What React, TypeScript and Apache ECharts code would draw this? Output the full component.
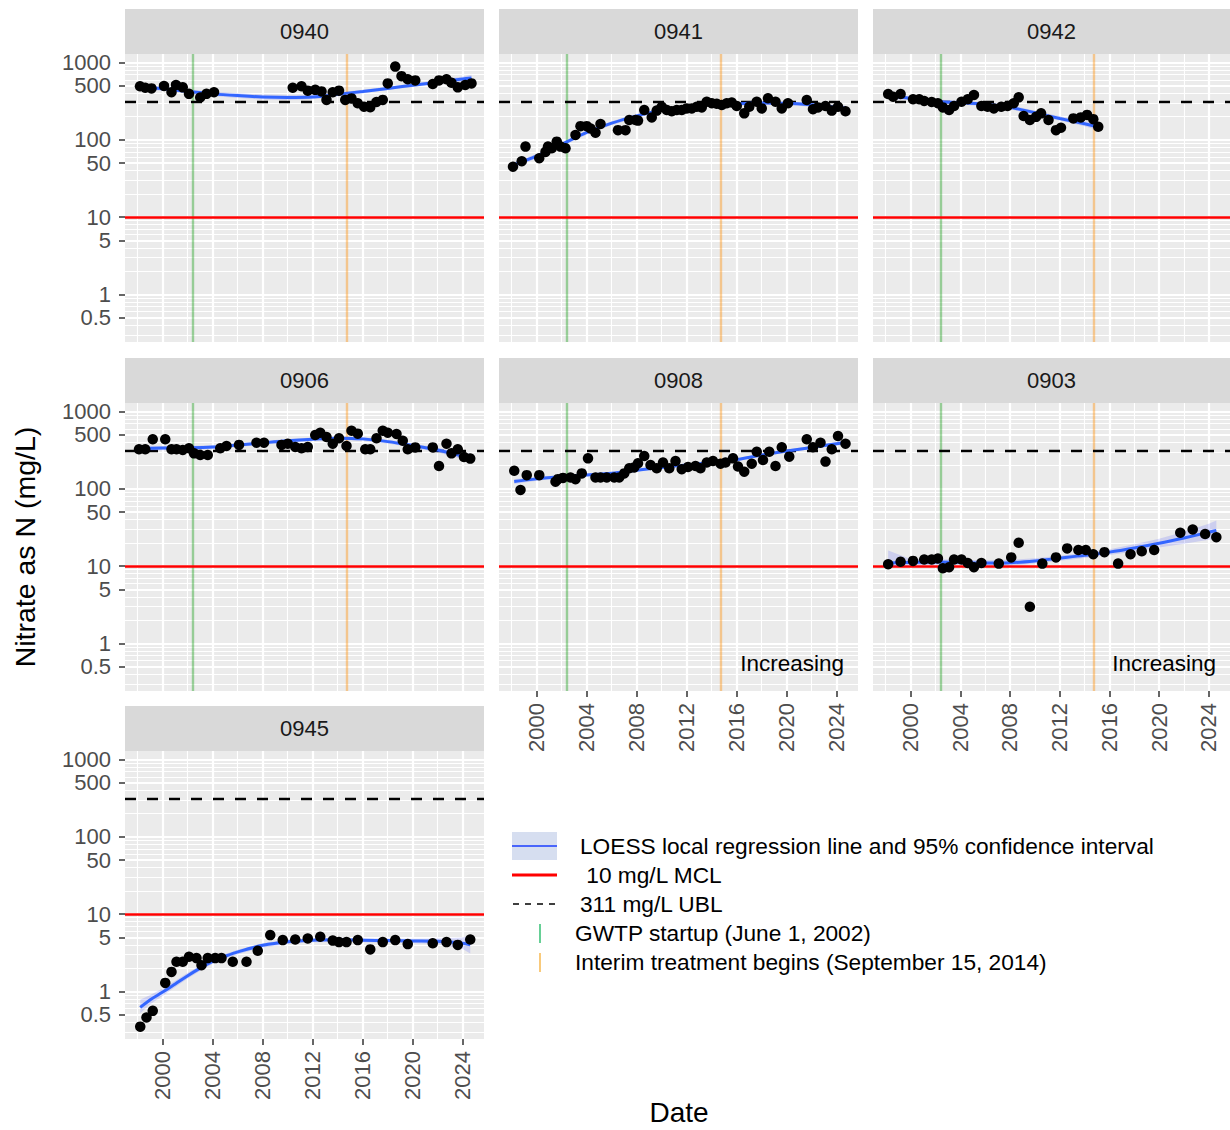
import React, { useEffect, useRef } from 'react';
import * as echarts from 'echarts';

const FONT = "'Liberation Sans', Arial, Helvetica, sans-serif";

// ---- axis domains / breaks ----
const X_MIN = 1996.98;
const X_MAX = 2025.7;
const Y_MIN = 0.2421;
const Y_MAX = 1296.6;

const xTickYears = [2000, 2004, 2008, 2012, 2016, 2020, 2024];
const xMinorYears = [1998, 2002, 2006, 2010, 2014, 2018, 2022];
const yTickValues = [0.5, 1, 5, 10, 50, 100, 500, 1000];
const yMinorValues = [0.3, 0.4, 0.6, 0.7, 0.8, 0.9, 2, 3, 4, 6, 7, 8, 9, 20, 30, 40, 60, 70, 80, 90, 200, 300, 400, 600, 700, 800, 900];

// ---- reference values ----
const MCL = 10; // mg/L
const UBL = 311; // mg/L
const GWTP_START = 2002.41; // June 1, 2002
const INTERIM_START = 2014.71; // September 15, 2014

// ---- well 0940 ----
const w0940Years = [1998.18, 1998.6, 1999.1, 2000.1, 2000.7, 2001.06, 2001.6, 2002.1, 2003.0, 2003.5, 2004.1, 2010.4, 2011.1, 2011.6, 2012.2, 2012.7, 2013.1, 2013.6, 2014.1, 2014.6, 2015.1, 2015.6, 2016.1, 2016.6, 2017.1, 2017.6, 2018.0, 2018.6, 2019.1, 2019.6, 2020.2, 2021.6, 2022.1, 2022.7, 2023.1, 2023.6, 2024.2, 2024.7];
const w0940Nitrate = [495, 475, 465, 500, 415, 515, 480, 395, 355, 395, 415, 475, 495, 435, 445, 425, 330, 415, 435, 330, 345, 298, 270, 265, 310, 330, 540, 890, 670, 610, 590, 530, 590, 610, 550, 480, 515, 540];
const w0940FitYears = [1998.2, 2000, 2002, 2004, 2006, 2008, 2010, 2012, 2014, 2016, 2018, 2020, 2022, 2024, 2024.7];
const w0940Fit = [490, 460, 425, 395, 375, 360, 355, 360, 390, 425, 465, 510, 560, 615, 635];
const w0940Lo = [455, 435, 402, 372, 350, 335, 330, 337, 368, 403, 442, 484, 528, 570, 575];
const w0940Hi = [528, 487, 450, 420, 402, 387, 382, 385, 413, 448, 490, 538, 595, 665, 700];

// ---- well 0941 ----
const w0941Years = [1998.1, 1998.8, 1999.1, 2000.2, 2000.7, 2000.9, 2001.2, 2001.6, 2001.9, 2002.3, 2003.1, 2003.5, 2004.0, 2004.3, 2004.7, 2005.1, 2006.5, 2007.1, 2007.4, 2007.9, 2008.1, 2008.6, 2009.2, 2009.6, 2010.0, 2010.4, 2010.8, 2011.2, 2011.6, 2012.0, 2012.4, 2012.8, 2013.2, 2013.6, 2014.0, 2014.4, 2014.8, 2015.2, 2015.6, 2016.0, 2016.6, 2017.0, 2017.6, 2018.0, 2018.5, 2019.1, 2019.6, 2020.1, 2021.6, 2022.1, 2022.5, 2023.1, 2023.6, 2024.1, 2024.7];
const w0941Nitrate = [45, 53, 82, 58, 70, 82, 78, 95, 82, 78, 116, 151, 151, 141, 124, 161, 134, 134, 181, 181, 178, 244, 196, 240, 269, 244, 235, 244, 244, 256, 256, 269, 264, 313, 299, 294, 283, 299, 305, 275, 221, 269, 313, 256, 346, 313, 256, 299, 329, 250, 264, 275, 240, 269, 235];
const w0941FitYears = [1998.1, 2000, 2002, 2004, 2006, 2008, 2010, 2012, 2014, 2016, 2018, 2020, 2022, 2024, 2024.7];
const w0941Fit = [47, 62, 88, 125, 165, 205, 245, 270, 290, 295, 300, 298, 285, 265, 258];
const w0941Lo = [43, 58, 83, 118, 156, 194, 233, 257, 276, 281, 286, 283, 270, 249, 240];
const w0941Hi = [51, 66, 93, 132, 174, 216, 257, 283, 304, 309, 314, 313, 300, 282, 277];

// ---- well 0942 ----
const w0942Years = [1998.2, 1998.6, 1999.2, 2000.2, 2000.7, 2001.1, 2001.7, 2002.2, 2002.6, 2003.1, 2003.5, 2004.1, 2004.6, 2005.1, 2005.7, 2006.2, 2006.7, 2007.3, 2007.8, 2008.3, 2008.7, 2009.1, 2009.6, 2010.1, 2010.5, 2011.1, 2011.7, 2012.1, 2013.1, 2013.7, 2014.2, 2014.7, 2015.1];
const w0942Nitrate = [393, 363, 393, 336, 336, 320, 310, 299, 264, 244, 275, 313, 336, 382, 275, 269, 256, 269, 275, 299, 356, 204, 181, 199, 221, 181, 134, 144, 190, 196, 211, 186, 148];
const w0942FitYears = [1998.2, 2000, 2002, 2004, 2006, 2008, 2010, 2012, 2014, 2015.1];
const w0942Fit = [370, 345, 315, 305, 290, 265, 225, 190, 162, 148];
const w0942Lo = [342, 326, 298, 288, 274, 250, 212, 178, 151, 134];
const w0942Hi = [400, 365, 333, 322, 307, 281, 239, 203, 174, 164];

// ---- well 0906 ----
const w0906Years = [1998.1, 1998.6, 1999.2, 2000.2, 2000.7, 2001.1, 2001.6, 2002.1, 2002.5, 2003.0, 2003.6, 2004.6, 2005.1, 2006.1, 2007.5, 2008.1, 2009.5, 2010.0, 2010.6, 2011.1, 2011.6, 2012.2, 2012.6, 2013.1, 2013.6, 2014.1, 2014.7, 2015.1, 2015.6, 2016.2, 2016.6, 2017.1, 2017.6, 2018.0, 2018.7, 2019.2, 2019.6, 2020.2, 2021.6, 2022.1, 2022.7, 2023.1, 2023.6, 2024.1, 2024.6];
const w0906Nitrate = [326, 326, 439, 439, 326, 326, 320, 336, 289, 275, 275, 336, 360, 372, 397, 397, 372, 385, 350, 336, 350, 499, 535, 470, 385, 453, 360, 568, 520, 326, 326, 453, 568, 535, 515, 421, 326, 345, 345, 198, 385, 289, 326, 259, 247];
const w0906FitYears = [1998.1, 2000, 2002, 2004, 2006, 2008, 2010, 2012, 2014, 2016, 2018, 2020, 2022, 2024, 2024.6];
const w0906Fit = [335, 338, 340, 348, 370, 395, 420, 440, 455, 445, 410, 365, 320, 265, 250];
const w0906Lo = [308, 318, 322, 330, 350, 374, 398, 417, 431, 421, 388, 344, 299, 240, 218];
const w0906Hi = [364, 359, 359, 367, 391, 417, 443, 464, 480, 470, 433, 387, 342, 292, 287];

// ---- well 0908 ----
const w0908Years = [1998.2, 1998.7, 1999.2, 2000.2, 2001.5, 2001.7, 2002.1, 2002.7, 2003.1, 2003.6, 2004.1, 2004.7, 2005.1, 2005.6, 2006.2, 2006.6, 2007.0, 2007.4, 2007.8, 2008.1, 2008.6, 2009.1, 2009.6, 2010.1, 2010.6, 2011.1, 2011.6, 2012.1, 2012.7, 2013.1, 2013.6, 2014.1, 2014.7, 2015.1, 2015.7, 2016.1, 2016.6, 2017.2, 2017.6, 2018.1, 2018.6, 2019.1, 2019.6, 2020.2, 2021.6, 2022.1, 2022.7, 2023.1, 2023.6, 2024.1, 2024.7];
const w0908Nitrate = [172, 97, 151, 151, 124, 134, 139, 141, 134, 159, 249, 141, 141, 141, 141, 141, 159, 185, 190, 215, 267, 204, 185, 220, 185, 230, 180, 192, 198, 185, 220, 230, 212, 220, 249, 195, 167, 212, 303, 237, 303, 198, 346, 262, 439, 346, 397, 226, 326, 484, 385];
const w0908FitYears = [1998.2, 2000, 2002, 2004, 2006, 2008, 2010, 2012, 2014, 2016, 2018, 2020, 2022, 2024, 2024.7];
const w0908Fit = [125, 135, 145, 152, 160, 175, 190, 205, 220, 240, 275, 310, 345, 385, 400];
const w0908Lo = [116, 128, 139, 146, 154, 168, 183, 197, 212, 231, 264, 297, 330, 364, 374];
const w0908Hi = [135, 142, 151, 158, 166, 182, 197, 213, 228, 249, 286, 323, 361, 407, 428];

// ---- well 0903 ----
const w0903Years = [1998.2, 1999.2, 2000.2, 2001.1, 2001.7, 2002.2, 2002.6, 2003.1, 2003.5, 2004.1, 2004.6, 2005.1, 2005.7, 2007.1, 2008.1, 2008.7, 2009.6, 2010.6, 2011.7, 2012.6, 2013.5, 2014.1, 2014.7, 2015.6, 2016.7, 2017.7, 2018.6, 2019.6, 2021.7, 2022.7, 2023.7, 2024.6];
const w0903Nitrate = [10.6, 11.4, 11.7, 12.2, 12.2, 12.6, 9.4, 9.7, 12.2, 12.2, 11.0, 9.7, 11.0, 10.8, 13.0, 20.1, 2.98, 10.8, 13.0, 17.0, 16.2, 16.2, 14.3, 15.2, 10.8, 14.3, 15.6, 16.2, 27.1, 29.9, 26.1, 23.7];
const w0903FitYears = [1998.2, 2000, 2002, 2004, 2006, 2008, 2010, 2012, 2014, 2016, 2018, 2020, 2022, 2024, 2024.6];
const w0903Fit = [11.0, 11.2, 11.3, 11.2, 11.0, 11.1, 11.7, 12.7, 13.8, 15.2, 17.2, 19.8, 23.2, 27.5, 29.0];
const w0903Lo = [9.8, 10.2, 10.4, 10.4, 10.2, 10.2, 10.8, 11.8, 12.8, 14.0, 15.5, 17.5, 19.5, 22.0, 22.5];
const w0903Hi = [16.0, 12.4, 12.3, 12.1, 11.9, 12.1, 12.7, 13.7, 14.9, 16.6, 19.2, 22.6, 28.0, 35.5, 39.0];

// ---- well 0945 ----
const w0945Years = [1998.2, 1998.7, 1999.2, 2000.2, 2000.7, 2001.1, 2001.6, 2002.1, 2002.7, 2003.1, 2003.6, 2004.2, 2004.7, 2005.6, 2006.7, 2007.6, 2008.6, 2009.6, 2010.6, 2011.6, 2012.6, 2013.6, 2014.1, 2014.7, 2015.6, 2016.6, 2017.6, 2018.6, 2019.6, 2021.6, 2022.7, 2023.6, 2024.6];
const w0945Nitrate = [0.35, 0.46, 0.56, 1.29, 1.79, 2.42, 2.42, 2.81, 2.7, 2.19, 2.7, 2.7, 2.7, 2.42, 2.42, 3.36, 5.36, 4.62, 4.7, 4.85, 5.1, 4.55, 4.35, 4.35, 4.62, 3.5, 4.35, 4.62, 4.1, 4.2, 4.35, 4.0, 4.7];
const w0945FitYears = [1998.2, 1999, 2000, 2001, 2002, 2003, 2004, 2005, 2006, 2008, 2010, 2012, 2014, 2016, 2018, 2020, 2022, 2024, 2024.6];
const w0945Fit = [0.62, 0.78, 0.98, 1.25, 1.6, 2.0, 2.45, 2.85, 3.25, 3.95, 4.4, 4.6, 4.65, 4.6, 4.55, 4.5, 4.45, 4.2, 4.0];
const w0945Lo = [0.52, 0.68, 0.88, 1.14, 1.47, 1.85, 2.28, 2.66, 3.04, 3.7, 4.12, 4.32, 4.38, 4.33, 4.28, 4.22, 4.1, 3.55, 3.1];
const w0945Hi = [0.78, 0.9, 1.09, 1.37, 1.74, 2.16, 2.63, 3.05, 3.47, 4.22, 4.7, 4.9, 4.94, 4.88, 4.83, 4.8, 4.83, 5.0, 5.3];

const wells = [
  { id: '0940', years: w0940Years, values: w0940Nitrate, fitYears: w0940FitYears, fit: w0940Fit, lo: w0940Lo, hi: w0940Hi, trend: '', events: true },
  { id: '0941', years: w0941Years, values: w0941Nitrate, fitYears: w0941FitYears, fit: w0941Fit, lo: w0941Lo, hi: w0941Hi, trend: '', events: true },
  { id: '0942', years: w0942Years, values: w0942Nitrate, fitYears: w0942FitYears, fit: w0942Fit, lo: w0942Lo, hi: w0942Hi, trend: '', events: true },
  { id: '0906', years: w0906Years, values: w0906Nitrate, fitYears: w0906FitYears, fit: w0906Fit, lo: w0906Lo, hi: w0906Hi, trend: '', events: true },
  { id: '0908', years: w0908Years, values: w0908Nitrate, fitYears: w0908FitYears, fit: w0908Fit, lo: w0908Lo, hi: w0908Hi, trend: 'Increasing', events: true },
  { id: '0903', years: w0903Years, values: w0903Nitrate, fitYears: w0903FitYears, fit: w0903Fit, lo: w0903Lo, hi: w0903Hi, trend: 'Increasing', events: true },
  { id: '0945', years: w0945Years, values: w0945Nitrate, fitYears: w0945FitYears, fit: w0945Fit, lo: w0945Lo, hi: w0945Hi, trend: '', events: false },
];

// ---- layout (pixels) ----
const PANEL_H = 288;
const STRIP_H = 45;
const panelLayout = [
  { left: 125, top: 54, width: 359, xLabels: false, yLabels: true },
  { left: 499, top: 54, width: 359, xLabels: false, yLabels: false },
  { left: 873, top: 54, width: 357, xLabels: false, yLabels: false },
  { left: 125, top: 403, width: 359, xLabels: false, yLabels: true },
  { left: 499, top: 403, width: 359, xLabels: true, yLabels: false },
  { left: 873, top: 403, width: 357, xLabels: true, yLabels: false },
  { left: 125, top: 751, width: 359, xLabels: true, yLabels: true },
];

const legendItems = [
  { key: 'loess', label: 'LOESS local regression line and 95% confidence interval', y: 846, tx: 580 },
  { key: 'mcl', label: ' 10 mg/L MCL', y: 875, tx: 580 },
  { key: 'ubl', label: '311 mg/L UBL', y: 904, tx: 580 },
  { key: 'gwtp', label: 'GWTP startup (June 1, 2002)', y: 933, tx: 575 },
  { key: 'interim', label: 'Interim treatment begins (September 15, 2014)', y: 962, tx: 575 },
];

const GRID_BG = '#EBEBEB';
const STRIP_BG = '#D9D9D9';
const GREEN_PANEL = 'rgba(0,150,0,0.36)';
const ORANGE_PANEL = 'rgba(255,140,0,0.40)';

function fmtY(v: number): string {
  if (v < 1) return String(Math.round(v * 10) / 10);
  return String(Math.round(v));
}

function buildOption() {
  const grids: any[] = [];
  const xAxes: any[] = [];
  const yAxes: any[] = [];
  const series: any[] = [];
  const graphics: any[] = [];

  const minorLine = { color: '#FFFFFF', width: 1.1, type: 'solid', opacity: 1 };
  const majorLine = { color: '#FFFFFF', width: 2.2, type: 'solid', opacity: 1 };
  const gridLineData: any[] = [
    ...yMinorValues.map((v) => ({ yAxis: v, lineStyle: minorLine })),
    ...xMinorYears.map((v) => ({ xAxis: v, lineStyle: minorLine })),
    ...yTickValues.map((v) => ({ yAxis: v, lineStyle: majorLine })),
    ...xTickYears.map((v) => ({ xAxis: v, lineStyle: majorLine })),
  ];
  const eventLineData: any[] = [
    { xAxis: GWTP_START, lineStyle: { color: GREEN_PANEL, width: 2.4, type: 'solid' } },
    { xAxis: INTERIM_START, lineStyle: { color: ORANGE_PANEL, width: 2.4, type: 'solid' } },
  ];
  const limitLineData: any[] = [
    { yAxis: MCL, lineStyle: { color: '#FF0000', width: 2.5, type: 'solid' } },
    { yAxis: UBL, lineStyle: { color: '#000000', width: 2.3, type: [11, 11] } },
  ];

  wells.forEach((w, i) => {
    const L = panelLayout[i];
    grids.push({
      left: L.left, top: L.top, width: L.width, height: PANEL_H,
      show: true, backgroundColor: GRID_BG, borderWidth: 0, containLabel: false, outerBoundsMode: 'none',
    });
    xAxes.push({
      gridIndex: i, type: 'value', min: X_MIN, max: X_MAX,
      axisLine: { show: false }, splitLine: { show: false }, minorTick: { show: false },
      axisTick: { show: L.xLabels, customValues: xTickYears, length: 6, lineStyle: { color: '#333333', width: 1.5 } },
      axisLabel: {
        show: L.xLabels, customValues: xTickYears, rotate: 90, margin: 12,
        color: '#4D4D4D', fontSize: 22, fontFamily: FONT, formatter: (v: number) => String(Math.round(v)),
      },
    });
    yAxes.push({
      gridIndex: i, type: 'log', logBase: 10, min: Y_MIN, max: Y_MAX,
      axisLine: { show: false }, splitLine: { show: false }, minorTick: { show: false },
      axisTick: { show: L.yLabels, customValues: yTickValues, length: 6, lineStyle: { color: '#333333', width: 1.5 } },
      axisLabel: {
        show: L.yLabels, customValues: yTickValues, margin: 14,
        color: '#4D4D4D', fontSize: 22, fontFamily: FONT, formatter: (v: number) => fmtY(v),
      },
    });

    // confidence band
    series.push({
      type: 'custom', name: w.id + ' 95% CI', xAxisIndex: i, yAxisIndex: i, z: 3, silent: true,
      data: [[w.fitYears[0], w.fit[0]]],
      renderItem: (_params: any, api: any) => {
        const pts: number[][] = [];
        for (let k = 0; k < w.fitYears.length; k++) pts.push(api.coord([w.fitYears[k], w.hi[k]]));
        for (let k = w.fitYears.length - 1; k >= 0; k--) pts.push(api.coord([w.fitYears[k], w.lo[k]]));
        return { type: 'polygon', shape: { points: pts }, style: { fill: 'rgba(30,40,255,0.15)' }, silent: true };
      },
    });
    // LOESS line + reference lines
    series.push({
      type: 'line', name: w.id + ' LOESS', xAxisIndex: i, yAxisIndex: i, z: 4,
      data: w.fitYears.map((x, k) => [x, w.fit[k]]),
      showSymbol: false, symbol: 'none', smooth: 0.35, silent: true,
      lineStyle: { color: '#3366FF', width: 3 },
      markLine: {
        silent: true, symbol: ['none', 'none'], z: 2, animation: false,
        label: { show: false }, emphasis: { disabled: true },
        data: w.events ? eventLineData.concat(limitLineData) : limitLineData,
      },
    });
    // observations + panel grid lines
    series.push({
      type: 'scatter', name: w.id, xAxisIndex: i, yAxisIndex: i, z: 5,
      data: w.years.map((x, k) => [x, w.values[k]]),
      symbolSize: 10.5, itemStyle: { color: '#000000', opacity: 1 }, silent: true,
      markLine: {
        silent: true, symbol: ['none', 'none'], z: 1, animation: false,
        label: { show: false }, emphasis: { disabled: true },
        data: gridLineData,
      },
    });

    // strip
    graphics.push({
      type: 'rect', shape: { x: L.left, y: L.top - STRIP_H, width: L.width, height: STRIP_H },
      style: { fill: STRIP_BG }, silent: true,
    });
    graphics.push({
      type: 'text', x: L.left + L.width / 2, y: L.top - STRIP_H / 2,
      style: { text: w.id, fill: '#1A1A1A', fontSize: 22, fontFamily: FONT, align: 'center', verticalAlign: 'middle' },
      silent: true,
    });
    if (w.trend) {
      graphics.push({
        type: 'text', x: L.left + L.width - 14, y: L.top + PANEL_H - 28, z: 10,
        style: { text: w.trend, fill: '#000000', fontSize: 22.5, fontFamily: FONT, align: 'right', verticalAlign: 'middle' },
        silent: true,
      });
    }
  });

  // axis titles
  graphics.push({
    type: 'text', x: 25, y: 547, rotation: Math.PI / 2,
    style: { text: 'Nitrate as N (mg/L)', fill: '#000000', fontSize: 28.5, fontFamily: FONT, align: 'center', verticalAlign: 'middle' },
    silent: true,
  });
  graphics.push({
    type: 'text', x: 679, y: 1112,
    style: { text: 'Date', fill: '#000000', fontSize: 28, fontFamily: FONT, align: 'center', verticalAlign: 'middle' },
    silent: true,
  });

  // legend
  const KX0 = 512;
  const KX1 = 557;
  legendItems.forEach((it) => {
    if (it.key === 'loess') {
      graphics.push({ type: 'rect', shape: { x: KX0, y: it.y - 14, width: KX1 - KX0, height: 28 }, style: { fill: '#D6DEF0' }, silent: true });
      graphics.push({ type: 'line', shape: { x1: KX0, y1: it.y, x2: KX1, y2: it.y }, style: { stroke: '#1A3CFF', lineWidth: 1.6 }, silent: true });
    } else if (it.key === 'mcl') {
      graphics.push({ type: 'line', shape: { x1: KX0, y1: it.y, x2: KX1, y2: it.y }, style: { stroke: '#FF0000', lineWidth: 3 }, silent: true });
    } else if (it.key === 'ubl') {
      graphics.push({ type: 'line', shape: { x1: KX0 + 1, y1: it.y, x2: KX1, y2: it.y }, style: { stroke: '#000000', lineWidth: 1.6, lineDash: [6, 6] }, silent: true });
    } else if (it.key === 'gwtp') {
      graphics.push({ type: 'line', shape: { x1: 540, y1: it.y - 9, x2: 540, y2: it.y + 10 }, style: { stroke: '#00B050', lineWidth: 1.2 }, silent: true });
    } else {
      graphics.push({ type: 'line', shape: { x1: 540, y1: it.y - 9, x2: 540, y2: it.y + 10 }, style: { stroke: '#F5A623', lineWidth: 1.2 }, silent: true });
    }
    graphics.push({
      type: 'text', x: it.tx, y: it.y,
      style: { text: it.label, fill: '#000000', fontSize: 22.7, fontFamily: FONT, align: 'left', verticalAlign: 'middle' },
      silent: true,
    });
  });

  return {
    animation: false,
    backgroundColor: '#FFFFFF',
    textStyle: { fontFamily: FONT },
    grid: grids,
    xAxis: xAxes,
    yAxis: yAxes,
    series,
    graphic: { elements: graphics },
  };
}

export default function App() {
  const ref = useRef<HTMLDivElement>(null);
  useEffect(() => {
    if (!ref.current) return;
    const chart = echarts.init(ref.current, undefined, { renderer: 'svg' });
    chart.setOption(buildOption() as any);
    return () => chart.dispose();
  }, []);
  return (
    <div
      ref={ref}
      style={{ position: 'absolute', left: 0, top: 0, width: 1230, height: 1130, background: '#FFFFFF' }}
    />
  );
}
